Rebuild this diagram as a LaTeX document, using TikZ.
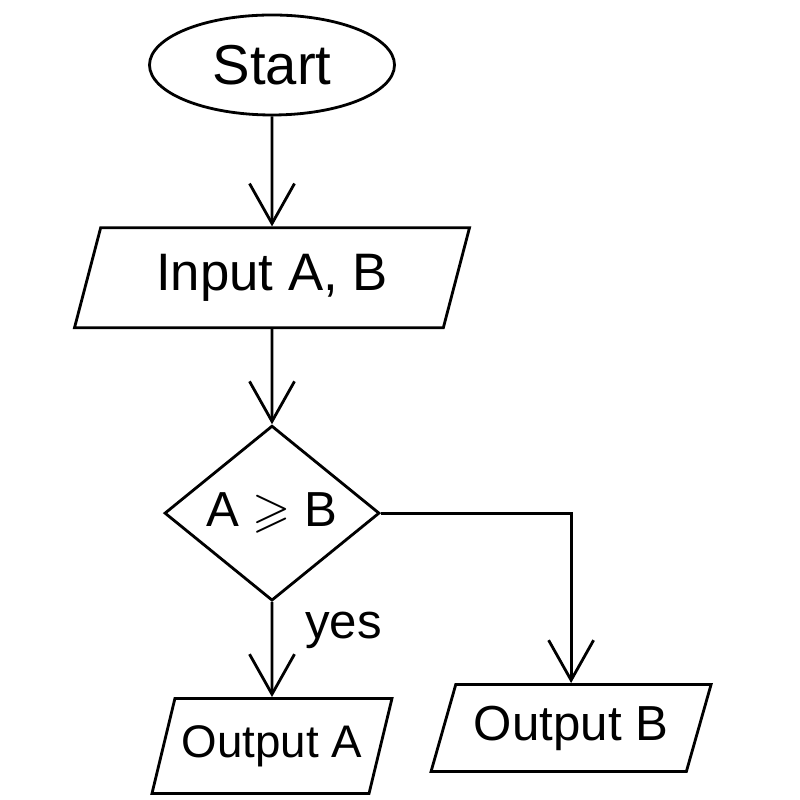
\documentclass[tikz,border=0pt]{standalone}
\usepackage{fontspec}
\setmainfont{Liberation Sans}
\usepackage{amssymb}
\usetikzlibrary{shapes.geometric, positioning, arrows.meta}

\begin{document}
\begin{tikzpicture}[>={Straight Barb[length=4mm, width=4.5mm]}, thick]
    \useasboundingbox (0,0) rectangle (8,8);
    \tikzset{StartStyle/.style = {shape        = ellipse,
                                  draw,
                                  minimum width  = 2.45cm,
                                  minimum height = 1cm,
                                  font           = \fontsize{16}{18}\selectfont}}
    \tikzset{IOStyle/.style = {shape                  = trapezium,
                               trapezium left angle   = 61,
                               trapezium right angle  = 119,
                               trapezium stretches body,
                               draw,
                               inner sep              = 0pt,
                               font                   = \fontsize{14}{16}\selectfont}}
    \tikzset{TestStyle/.style = {shape          = diamond,
                                 shape aspect   = 1.25,
                                 draw,
                                 inner sep      = 0pt,
                                 minimum width  = 2.15cm,
                                 minimum height = 1.75cm,
                                 font           = \fontsize{14}{16}\selectfont}}
    \tikzset{FlowStyle/.style = {->}}
    \node[StartStyle] (Start) at (2.72,7.35) {Start};
    \node[IOStyle, minimum width = 3.95cm, minimum height = 1cm,
          font = \fontsize{15}{17}\selectfont,
          below = 1.1cm of Start] (InAB) {Input A, B};
    \node[TestStyle, below = 0.95cm of InAB] (Cmp) {A $\geqslant$ B};
    \node[IOStyle, minimum width = 2.4cm, minimum height = 0.95cm,
          font = \fontsize{13}{15}\selectfont,
          below = 0.95cm of Cmp] (OutA) {Output A};
    \node[IOStyle, minimum width = 2.8cm, minimum height = 0.87cm,
          right = 0.6cm of OutA, yshift = 0.18cm] (OutB) {Output B};
    \coordinate (Turn) at (OutB.north |- Cmp.east);
    \draw[FlowStyle] (Start) -- (InAB);
    \draw[FlowStyle] (InAB) -- (Cmp);
    \draw[FlowStyle] (Cmp) -- node[pos = 0.3, right = 0.2cm,
                                   font = \fontsize{14}{16}\selectfont] {yes} (OutA);
    \draw[FlowStyle] (Cmp.east) -- (Turn) -- (OutB.north);
\end{tikzpicture}
\end{document}
